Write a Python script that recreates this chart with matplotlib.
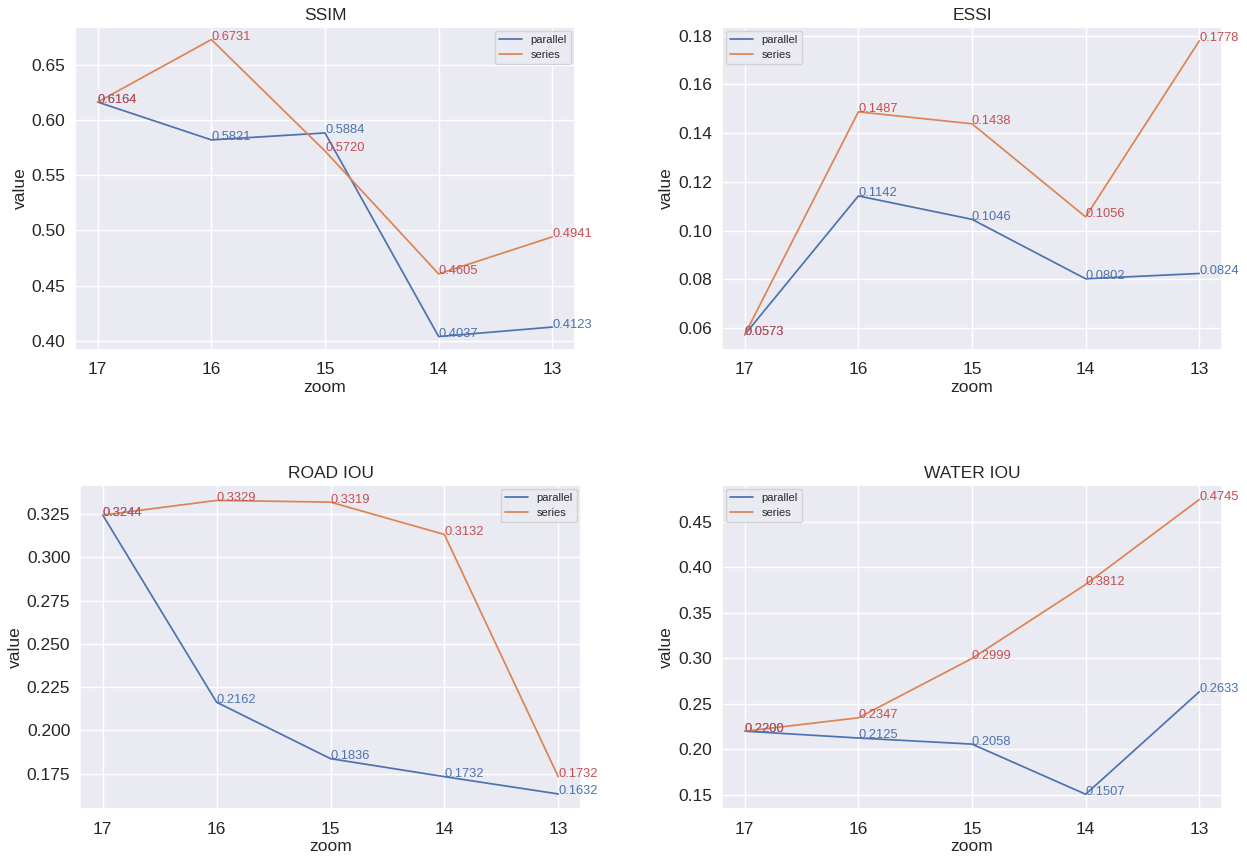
import matplotlib
matplotlib.use('Agg')
import matplotlib.pyplot as plt
import seaborn as sns

sns.set_theme(style='darkgrid')
plt.rcParams['font.family'] = ['Liberation Sans', 'DejaVu Sans']

zoom = ['17', '16', '15', '14', '13']

ssim_parallel = [0.6164, 0.5821, 0.5884, 0.4037, 0.4123]
ssim_series = [0.6164, 0.6731, 0.5720, 0.4605, 0.4941]
essi_parallel = [0.0573, 0.1142, 0.1046, 0.0802, 0.0824]
essi_series = [0.0573, 0.1487, 0.1438, 0.1056, 0.1778]
road_parallel = [0.3244, 0.2162, 0.1836, 0.1732, 0.1632]
road_series = [0.3244, 0.3329, 0.3319, 0.3132, 0.1732]
water_parallel = [0.2200, 0.2125, 0.2058, 0.1507, 0.2633]
water_series = [0.2200, 0.2347, 0.2999, 0.3812, 0.4745]

BLUE = '#4c72b0'
ORANGE = '#dd8452'
RED = '#c44e52'

fig = plt.figure(figsize=(12.47, 8.61), dpi=100, facecolor='white')


def draw(box, title, parallel, series, yticks, ylabel_x, loc, fmt='%.2f'):
    ax = fig.add_axes([box[0] / 1247, 1 - box[3] / 861, (box[2] - box[0]) / 1247, (box[3] - box[1]) / 861])
    ax.plot(zoom, parallel, color=BLUE, lw=1.25, label='parallel')
    ax.plot(zoom, series, color=ORANGE, lw=1.25, label='series')
    for i in range(len(zoom)):
        ax.annotate('%.4f' % parallel[i], (i, parallel[i]), xytext=(0, -2.5), textcoords='offset points',
                    color=BLUE, fontsize=9.3, va='bottom', ha='left')
        ax.annotate('%.4f' % series[i], (i, series[i]), xytext=(0, -2.5), textcoords='offset points',
                    color=RED, fontsize=9.3, va='bottom', ha='left')
    ax.set_yticks(yticks)
    ax.set_yticklabels([fmt % t for t in yticks])
    ax.tick_params(axis='x', labelsize=12.5, pad=9, length=0)
    ax.tick_params(axis='y', labelsize=12.5, pad=7, length=0)
    ax.grid(lw=1.0)
    ax.set_title(title, fontsize=12.5, pad=5)
    ax.set_xlabel('zoom', fontsize=12.5, labelpad=2)
    ax.set_ylabel('value', fontsize=12.5)
    ax.yaxis.set_label_coords(ylabel_x, 0.5)
    ax.legend(loc=loc, fontsize=8, borderaxespad=0.35, labelspacing=0.4)
    return ax


ax1 = draw((75, 27, 575, 350), 'SSIM', ssim_parallel, ssim_series,
           [0.40, 0.45, 0.50, 0.55, 0.60, 0.65], -0.095, 'upper right')
ax1.set_ylim(0.3915, 0.6845)
ax2 = draw((722, 27, 1222, 350), 'ESSI', essi_parallel, essi_series,
           [0.06, 0.08, 0.10, 0.12, 0.14, 0.16, 0.18], -0.097, 'upper left')
ax2.set_ylim(0.0510, 0.1835)
ax3 = draw((80, 485, 581, 809), 'ROAD IOU', road_parallel, road_series,
           [0.175, 0.200, 0.225, 0.250, 0.275, 0.300, 0.325], -0.113, 'upper right', '%.3f')
ax3.set_ylim(0.1545, 0.3418)
ax4 = draw((722, 485, 1222, 809), 'WATER IOU', water_parallel, water_series,
           [0.15, 0.20, 0.25, 0.30, 0.35, 0.40, 0.45], -0.097, 'upper left')
ax4.set_ylim(0.1345, 0.4905)

fig.savefig('out.png', dpi=100)
